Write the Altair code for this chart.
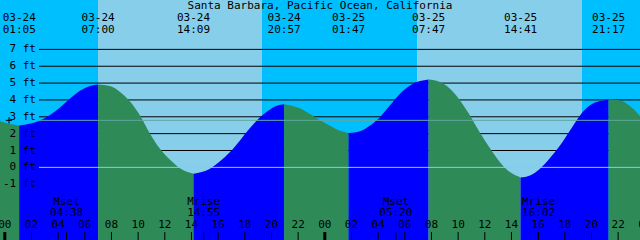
import altair as alt
import pandas as pd

TITLE = "Santa Barbara, Pacific Ocean, California"
X_DOMAIN = [-0.36, 47.64]          # hours since 03-24 00:00
Y_DOMAIN = [-4.31, 9.93]           # feet

# Tide height (hours since 03-24 00:00, feet)
curve_hours = [-0.36, 0.39,
               2.64, 3.39, 4.14, 4.89, 5.64, 6.39,
               7.89, 8.64, 9.39, 10.14, 10.89, 11.64, 12.39, 13.14,
               15.39, 16.14, 16.89, 17.64, 18.39, 19.14, 19.89, 20.64,
               22.14, 22.89, 23.64, 24.39, 25.14,
               26.64, 27.39, 28.14, 28.89, 29.64, 30.39, 31.14,
               32.64, 33.39, 34.14, 34.89, 35.64, 36.39, 37.14, 37.89,
               39.39, 40.14, 40.89, 41.64, 42.39, 43.14, 43.89, 44.64,
               46.14, 46.89, 47.64]
curve_feet = [2.73, 2.57,
              2.78, 3.10, 3.55, 4.08, 4.55, 4.83,
              4.82, 4.47, 3.91, 3.08, 2.00, 1.10, 0.45, -0.05,
              -0.08, 0.36, 0.91, 1.60, 2.33, 2.98, 3.44, 3.71,
              3.50, 3.16, 2.80, 2.47, 2.17,
              2.14, 2.49, 2.98, 3.68, 4.37, 4.86, 5.12,
              5.06, 4.66, 3.97, 3.08, 2.05, 1.14, 0.31, -0.28,
              -0.48, -0.08, 0.55, 1.30, 2.19, 3.08, 3.68, 3.93,
              3.97, 3.64, 3.05]

# High / low tides
extreme_hours = [1.083, 7.0, 14.15, 20.95, 25.783, 31.783, 38.683, 45.283]
extreme_feet = [2.49, 4.92, -0.38, 3.75, 2.03, 5.22, -0.60, 4.03]
extreme_dates = ["03-24", "03-24", "03-24", "03-24", "03-25", "03-25", "03-25", "03-25"]
extreme_times = ["01:05", "07:00", "14:09", "20:57", "01:47", "07:47", "14:41", "21:17"]

# Daylight
sun_edges = [-0.36, 6.99, 19.29, 30.92, 43.29, 47.64]
sun_phase = ["night", "day", "night", "day", "night"]

# Moon
moon_hours = [4.633, 14.917, 29.333, 40.033]
moon_kind = ["Mset", "Mrise", "Mset", "Mrise"]
moon_times = ["04:38", "14:55", "05:20", "16:02"]

# Reference levels
grid_feet = [1, 2, 3, 4, 5, 6, 7]
label_feet = [-1, 0, 1, 2, 3, 4, 5, 6, 7]
msl_feet = [2.79]
zero_feet = [0]

hour_ticks = list(range(0, 49, 2))
hour_labels = ["%02d" % (h % 24) for h in hour_ticks]
midnight_hours = [0, 24, 48]

FONT = "DejaVu Sans Mono"
FS = 11

xs = alt.Scale(domain=X_DOMAIN, nice=False, zero=False)
ys = alt.Scale(domain=Y_DOMAIN, nice=False, zero=False)

# ---- tables ----
pts = sorted(zip(curve_hours + extreme_hours, curve_feet + extreme_feet))
bounds = [X_DOMAIN[0]] + extreme_hours + [X_DOMAIN[1]]
rows = []
for i in range(len(bounds) - 1):
    a, b = bounds[i], bounds[i + 1]
    seg = [(t, f) for t, f in pts if a - 1e-9 <= t <= b + 1e-9]
    kind = "rise" if seg[-1][1] > seg[0][1] else "fall"
    for t, f in seg:
        rows.append({"t": float(t), "ft": float(f), "seg": "s%d" % i, "kind": kind,
                     "base": Y_DOMAIN[0]})
water = pd.DataFrame(rows)

sky = pd.DataFrame({"start": sun_edges[:-1], "end": sun_edges[1:], "phase": sun_phase})
grid = pd.DataFrame({"ft": grid_feet})
ylab = pd.DataFrame({"ft": label_feet, "txt": ["%d ft" % v for v in label_feet]})
ext = pd.DataFrame({"t": extreme_hours, "date": extreme_dates, "time": extreme_times})
moon = pd.DataFrame({"t": moon_hours, "kind": moon_kind, "time": moon_times})
hours = pd.DataFrame({"t": hour_ticks, "lab": hour_labels})
thin = pd.DataFrame({"t": [h for h in hour_ticks if h not in midnight_hours] + moon_hours})
thick = pd.DataFrame({"t": midnight_hours})
msl = pd.DataFrame({"ft": msl_feet})
zero = pd.DataFrame({"ft": zero_feet})
title_df = pd.DataFrame({"title": [TITLE]})


def X(f):
    return alt.X(f, scale=xs, axis=None)


def Y(f):
    return alt.Y(f, scale=ys, axis=None)


sky_layer = alt.Chart(sky).mark_rect().encode(
    x=X("start:Q"), x2="end:Q",
    color=alt.Color("phase:N", scale=alt.Scale(domain=["night", "day"], range=["#00BFFF", "#87CEEB"]), legend=None),
)

grid_layer = alt.Chart(grid).mark_rule(color="black", strokeWidth=1).encode(
    y=Y("ft:Q"), x=alt.value(39), x2=alt.value(640)
)

water_layer = alt.Chart(water).mark_area(interpolate="monotone").encode(
    x=X("t:Q"),
    y=alt.Y("ft:Q", scale=ys, axis=None, stack=None),
    y2="base:Q",
    color=alt.Color("kind:N", scale=alt.Scale(domain=["rise", "fall"], range=["#0000FF", "#2E8B57"]), legend=None),
    detail="seg:N",
)

msl_layer = alt.Chart(msl).mark_rule(strokeWidth=1, color="#5FA89F").encode(
    y=Y("ft:Q"), x=alt.value(39), x2=alt.value(640)
)
msl_mark = alt.Chart(msl).mark_point(
    shape="M-1,0H1M0,-1V1", size=40, stroke="black", strokeWidth=1, filled=False, opacity=1
).encode(y=Y("ft:Q"), x=alt.value(9))
zero_layer = alt.Chart(zero).mark_rule(strokeWidth=1, color="#87CEEB").encode(
    y=Y("ft:Q"), x=alt.value(39), x2=alt.value(640)
)

txt = dict(font=FONT, fontSize=FS, color="black", baseline="middle")

ylab_layer = alt.Chart(ylab).mark_text(align="right", **txt).encode(
    y=Y("ft:Q"), x=alt.value(36), text="txt:N"
)
title_layer = alt.Chart(title_df).mark_text(align="center", **txt).encode(
    x=alt.value(320), y=alt.value(6), text="title:N"
)
date_layer = alt.Chart(ext).mark_text(align="center", **txt).encode(
    x=X("t:Q"), y=alt.value(17.5), text="date:N"
)
time_layer = alt.Chart(ext).mark_text(align="center", **txt).encode(
    x=X("t:Q"), y=alt.value(30), text="time:N"
)
moon_kind_layer = alt.Chart(moon).mark_text(align="center", **txt).encode(
    x=X("t:Q"), y=alt.value(201.5), text="kind:N"
)
moon_time_layer = alt.Chart(moon).mark_text(align="center", **txt).encode(
    x=X("t:Q"), y=alt.value(213), text="time:N"
)
hour_layer = alt.Chart(hours).mark_text(align="center", **txt).encode(
    x=X("t:Q"), y=alt.value(225), text="lab:N"
)
thin_layer = alt.Chart(thin).mark_rule(color="black", strokeWidth=1).encode(
    x=X("t:Q"), y=alt.value(232), y2=alt.value(240)
)
thick_layer = alt.Chart(thick).mark_rule(color="black", strokeWidth=3).encode(
    x=X("t:Q"), y=alt.value(232), y2=alt.value(240)
)

chart = alt.layer(
    sky_layer, grid_layer, water_layer, msl_layer, zero_layer, msl_mark,
    ylab_layer, title_layer, date_layer, time_layer,
    moon_kind_layer, moon_time_layer, hour_layer, thin_layer, thick_layer,
).resolve_scale(color="independent").properties(
    width=640, height=240, padding=0, autosize=alt.AutoSizeParams(type="none")
).configure_view(stroke=None)

chart.save("out.html", embed_options={"renderer": "svg", "actions": False})
